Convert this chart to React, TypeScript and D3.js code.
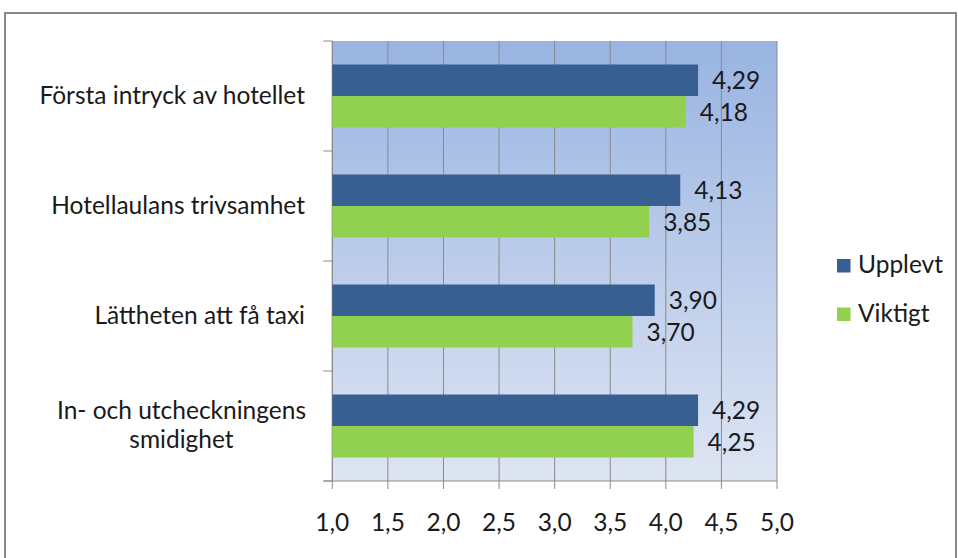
import React from "react";
import * as d3 from "d3";

const categories = [
  ["Första intryck av hotellet"],
  ["Hotellaulans trivsamhet"],
  ["Lättheten att få taxi"],
  ["In- och utcheckningens", "smidighet"],
];
const seriesNames = ["Upplevt", "Viktigt"];
const upplevt = [4.29, 4.13, 3.9, 4.29];
const viktigt = [4.18, 3.85, 3.7, 4.25];
const xTicks = [1.0, 1.5, 2.0, 2.5, 3.0, 3.5, 4.0, 4.5, 5.0];
const colors = ["#375F92", "#92D050"];

const W = 958;
const H = 558;
const FONT = "Lato, 'Open Sans', sans-serif";
const FS = 24.5;

export default function App() {
  const left = 332.3;
  const right = 777;
  const top = 41;
  const bottom = 481;

  const x = d3.scaleLinear().domain([1, 5]).range([left, right]);
  const pi = 0.4273;
  const y = d3
    .scaleBand<number>()
    .domain(d3.range(categories.length))
    .range([top, bottom])
    .paddingInner(pi)
    .paddingOuter(pi / 2);
  const ys = d3.scaleBand<number>().domain([0, 1]).range([0, y.bandwidth()]);
  const step = y.step();
  const values = [upplevt, viktigt];
  const fmt = (v: number) => d3.format(".2f")(v).replace(".", ",");
  const fmt1 = (v: number) => d3.format(".1f")(v).replace(".", ",");
  const labelRight = 305;

  return (
    <svg
      width={W}
      height={H}
      style={{ position: "absolute", left: 0, top: 0, background: "#fff" }}
      fontFamily={FONT}
    >
      <defs>
        <linearGradient id="bg" x1="0" y1="0" x2="0" y2="1">
          <stop offset="0" stopColor="#99B4E2" />
          <stop offset="1" stopColor="#DEE5F3" />
        </linearGradient>
      </defs>
      <rect x={5} y={13} width={951} height={600} fill="#fff" stroke="#888" strokeWidth={2} />
      <rect x={left} y={top} width={right - left} height={bottom - top} fill="url(#bg)" />
      {xTicks.map((t, i) => (
        <line key={"g" + i} x1={x(t)} x2={x(t)} y1={top} y2={bottom + 8} stroke="#8a8a8a" strokeWidth={1} />
      ))}
      <line x1={left} x2={left} y1={top} y2={bottom} stroke="#8a8a8a" />
      {d3.range(categories.length + 1).map((i) => (
        <line key={"t" + i} x1={left - 9} x2={left} y1={top + i * step} y2={top + i * step} stroke="#8a8a8a" />
      ))}
      <line x1={left - 9} x2={right} y1={bottom} y2={bottom} stroke="#8a8a8a" />
      {values.map((vals, s) =>
        vals.map((v, i) => (
          <rect
            key={`b${s}-${i}`}
            x={left}
            y={(y(i) as number) + (ys(s) as number)}
            width={x(v) - left}
            height={ys.bandwidth()}
            fill={colors[s]}
          />
        ))
      )}
      {values.map((vals, s) =>
        vals.map((v, i) => (
          <text
            key={`l${s}-${i}`}
            x={x(v) + 14}
            y={(y(i) as number) + (ys(s) as number) + ys.bandwidth() / 2 + 9}
            fontSize={FS}
            fill="#1a1a1a"
          >
            {fmt(v)}
          </text>
        ))
      )}
      {categories.map((lines, i) => {
        const cy = (y(i) as number) + y.bandwidth() / 2;
        if (lines.length === 1) {
          return (
            <text key={"c" + i} x={labelRight} y={cy + 8} fontSize={FS} textAnchor="end" fill="#1a1a1a">
              {lines[0]}
            </text>
          );
        }
        return (
          <g key={"c" + i}>
            <text x={181.5} y={cy - 7} fontSize={FS} textAnchor="middle" fill="#1a1a1a">
              {lines[0]}
            </text>
            <text x={181.5} y={cy + 22} fontSize={FS} textAnchor="middle" fill="#1a1a1a">
              {lines[1]}
            </text>
          </g>
        );
      })}
      {xTicks.map((t, i) => (
        <text key={"x" + i} x={x(t)} y={531} fontSize={FS} textAnchor="middle" fill="#1a1a1a">
          {fmt1(t)}
        </text>
      ))}
      {seriesNames.map((n, s) => (
        <g key={"lg" + s} transform={`translate(837, ${259 + s * 48.5})`}>
          <rect x={0} y={0} width={13.5} height={13.5} fill={colors[s]} />
          <text x={21} y={14} fontSize={FS} fill="#1a1a1a">
            {n}
          </text>
        </g>
      ))}
    </svg>
  );
}
